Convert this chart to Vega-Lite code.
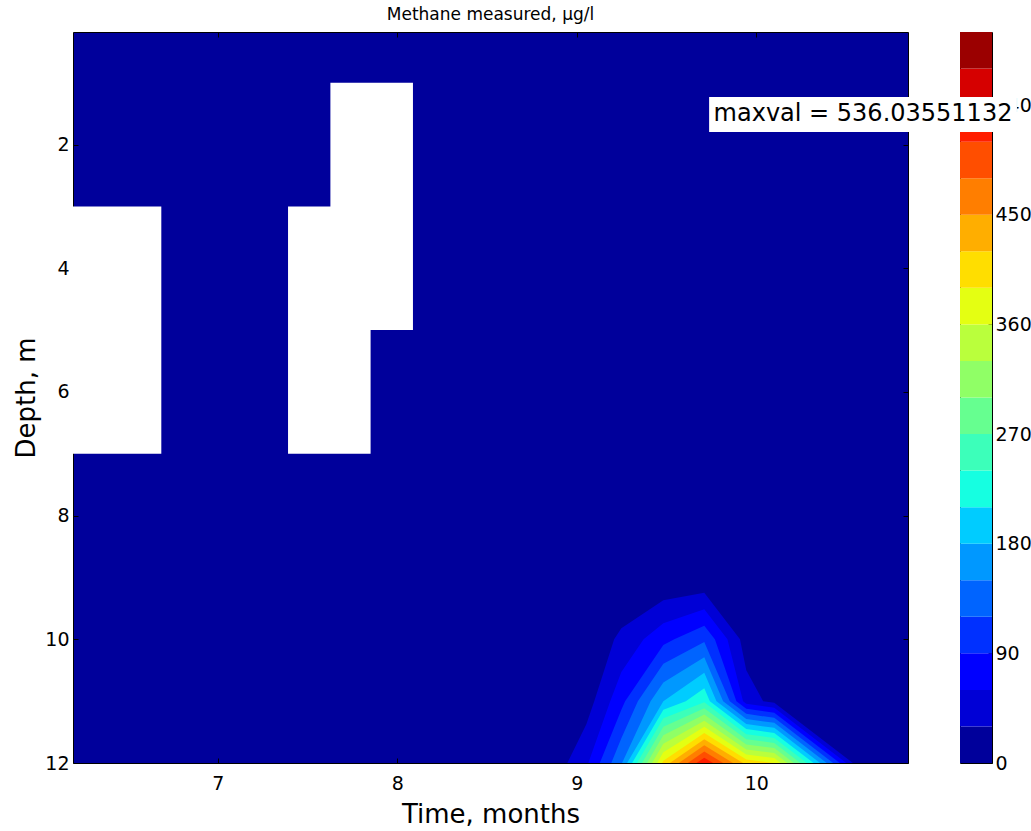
{
  "$schema": "https://vega.github.io/schema/vega-lite/v6.json",
  "background": "white",
  "padding": {"left": 13, "top": 5, "right": 2, "bottom": 5},
  "bounds": "flush",
  "spacing": 52,
  "config": {
    "font": "DejaVu Sans",
    "axis": {
      "labelFont": "DejaVu Sans",
      "labelFontSize": 19,
      "labelColor": "black",
      "titleFont": "DejaVu Sans",
      "titleFontSize": 26,
      "titleFontWeight": "normal",
      "titleColor": "black",
      "domain": false,
      "grid": false,
      "tickColor": "black",
      "tickWidth": 1,
      "zindex": 1
    }
  },
  "datasets": {
    "masked": [
      {"t_start": 6.193, "t_end": 6.685, "depth_top": 3, "depth_bottom": 7},
      {"t_start": 7.391, "t_end": 7.851, "depth_top": 3, "depth_bottom": 7},
      {"t_start": 7.627, "t_end": 8.087, "depth_top": 1, "depth_bottom": 5}
    ],
    "contours": [
      {"level": 30, "t": 8.947, "depth": 12},
      {"level": 30, "t": 9.053, "depth": 11.375},
      {"level": 30, "t": 9.097, "depth": 11},
      {"level": 30, "t": 9.208, "depth": 10},
      {"level": 30, "t": 9.248, "depth": 9.822},
      {"level": 30, "t": 9.482, "depth": 9.37},
      {"level": 30, "t": 9.71, "depth": 9.248},
      {"level": 30, "t": 9.909, "depth": 10},
      {"level": 30, "t": 9.944, "depth": 10.5},
      {"level": 30, "t": 10.038, "depth": 11},
      {"level": 30, "t": 10.1, "depth": 11.027},
      {"level": 30, "t": 10.538, "depth": 12},

      {"level": 60, "t": 9.064, "depth": 12},
      {"level": 60, "t": 9.186, "depth": 11},
      {"level": 60, "t": 9.248, "depth": 10.528},
      {"level": 60, "t": 9.372, "depth": 10},
      {"level": 60, "t": 9.482, "depth": 9.741},
      {"level": 60, "t": 9.71, "depth": 9.513},
      {"level": 60, "t": 9.839, "depth": 10},
      {"level": 60, "t": 9.926, "depth": 11},
      {"level": 60, "t": 9.944, "depth": 11.041},
      {"level": 60, "t": 10.1, "depth": 11.108},
      {"level": 60, "t": 10.501, "depth": 12},

      {"level": 90, "t": 9.128, "depth": 12},
      {"level": 90, "t": 9.248, "depth": 11.138},
      {"level": 90, "t": 9.269, "depth": 11},
      {"level": 90, "t": 9.482, "depth": 10.091},
      {"level": 90, "t": 9.543, "depth": 10},
      {"level": 90, "t": 9.71, "depth": 9.779},
      {"level": 90, "t": 9.769, "depth": 10},
      {"level": 90, "t": 9.889, "depth": 11},
      {"level": 90, "t": 9.944, "depth": 11.123},
      {"level": 90, "t": 10.1, "depth": 11.189},
      {"level": 90, "t": 10.465, "depth": 12},

      {"level": 120, "t": 9.192, "depth": 12},
      {"level": 120, "t": 9.248, "depth": 11.6},
      {"level": 120, "t": 9.34, "depth": 11},
      {"level": 120, "t": 9.482, "depth": 10.394},
      {"level": 120, "t": 9.71, "depth": 10.042},
      {"level": 120, "t": 9.852, "depth": 11},
      {"level": 120, "t": 9.944, "depth": 11.205},
      {"level": 120, "t": 10.1, "depth": 11.27},
      {"level": 120, "t": 10.428, "depth": 12},

      {"level": 150, "t": 9.252, "depth": 12},
      {"level": 150, "t": 9.411, "depth": 11},
      {"level": 150, "t": 9.482, "depth": 10.697},
      {"level": 150, "t": 9.71, "depth": 10.292},
      {"level": 150, "t": 9.815, "depth": 11},
      {"level": 150, "t": 9.944, "depth": 11.288},
      {"level": 150, "t": 10.1, "depth": 11.351},
      {"level": 150, "t": 10.392, "depth": 12},

      {"level": 180, "t": 9.28, "depth": 12},
      {"level": 180, "t": 9.482, "depth": 11},
      {"level": 180, "t": 9.71, "depth": 10.542},
      {"level": 180, "t": 9.778, "depth": 11},
      {"level": 180, "t": 9.944, "depth": 11.37},
      {"level": 180, "t": 10.1, "depth": 11.432},
      {"level": 180, "t": 10.355, "depth": 12},

      {"level": 210, "t": 9.308, "depth": 12},
      {"level": 210, "t": 9.482, "depth": 11.138},
      {"level": 210, "t": 9.607, "depth": 11},
      {"level": 210, "t": 9.71, "depth": 10.792},
      {"level": 210, "t": 9.741, "depth": 11},
      {"level": 210, "t": 9.944, "depth": 11.452},
      {"level": 210, "t": 10.1, "depth": 11.514},
      {"level": 210, "t": 10.319, "depth": 12},

      {"level": 240, "t": 9.335, "depth": 12},
      {"level": 240, "t": 9.482, "depth": 11.275},
      {"level": 240, "t": 9.71, "depth": 11.017},
      {"level": 240, "t": 9.944, "depth": 11.534},
      {"level": 240, "t": 10.1, "depth": 11.595},
      {"level": 240, "t": 10.282, "depth": 12},

      {"level": 270, "t": 9.363, "depth": 12},
      {"level": 270, "t": 9.482, "depth": 11.413},
      {"level": 270, "t": 9.71, "depth": 11.116},
      {"level": 270, "t": 9.944, "depth": 11.616},
      {"level": 270, "t": 10.1, "depth": 11.676},
      {"level": 270, "t": 10.246, "depth": 12},

      {"level": 300, "t": 9.391, "depth": 12},
      {"level": 300, "t": 9.482, "depth": 11.55},
      {"level": 300, "t": 9.71, "depth": 11.216},
      {"level": 300, "t": 9.944, "depth": 11.699},
      {"level": 300, "t": 10.1, "depth": 11.757},
      {"level": 300, "t": 10.209, "depth": 12},

      {"level": 330, "t": 9.419, "depth": 12},
      {"level": 330, "t": 9.482, "depth": 11.688},
      {"level": 330, "t": 9.71, "depth": 11.316},
      {"level": 330, "t": 9.944, "depth": 11.781},
      {"level": 330, "t": 10.1, "depth": 11.838},
      {"level": 330, "t": 10.173, "depth": 12},

      {"level": 360, "t": 9.447, "depth": 12},
      {"level": 360, "t": 9.482, "depth": 11.826},
      {"level": 360, "t": 9.71, "depth": 11.415},
      {"level": 360, "t": 9.944, "depth": 11.863},
      {"level": 360, "t": 10.1, "depth": 11.919},
      {"level": 360, "t": 10.136, "depth": 12},

      {"level": 390, "t": 9.475, "depth": 12},
      {"level": 390, "t": 9.482, "depth": 11.963},
      {"level": 390, "t": 9.71, "depth": 11.515},
      {"level": 390, "t": 9.944, "depth": 11.945},
      {"level": 390, "t": 10.1, "depth": 12},

      {"level": 420, "t": 9.518, "depth": 12},
      {"level": 420, "t": 9.71, "depth": 11.615},
      {"level": 420, "t": 9.926, "depth": 12},

      {"level": 450, "t": 9.568, "depth": 12},
      {"level": 450, "t": 9.71, "depth": 11.714},
      {"level": 450, "t": 9.87, "depth": 12},

      {"level": 480, "t": 9.618, "depth": 12},
      {"level": 480, "t": 9.71, "depth": 11.814},
      {"level": 480, "t": 9.815, "depth": 12},

      {"level": 510, "t": 9.667, "depth": 12},
      {"level": 510, "t": 9.71, "depth": 11.914},
      {"level": 510, "t": 9.759, "depth": 12}
    ],
    "bands": [
      {"level": 0, "upper": 30}, {"level": 30, "upper": 60}, {"level": 60, "upper": 90},
      {"level": 90, "upper": 120}, {"level": 120, "upper": 150}, {"level": 150, "upper": 180},
      {"level": 180, "upper": 210}, {"level": 210, "upper": 240}, {"level": 240, "upper": 270},
      {"level": 270, "upper": 300}, {"level": 300, "upper": 330}, {"level": 330, "upper": 360},
      {"level": 360, "upper": 390}, {"level": 390, "upper": 420}, {"level": 420, "upper": 450},
      {"level": 450, "upper": 480}, {"level": 480, "upper": 510}, {"level": 510, "upper": 540},
      {"level": 540, "upper": 570}, {"level": 570, "upper": 600}
    ],
    "note": [
      {"label": "maxval = 536.03551132"}
    ]
  },
  "hconcat": [
    {
      "width": 835,
      "height": 731,
      "title": {"text": "Methane measured, μg/l", "font": "DejaVu Sans", "fontSize": 17, "fontWeight": "normal", "color": "black", "offset": 8},
      "view": {"fill": "#00009b", "stroke": "black", "strokeWidth": 1},
      "resolve": {"axis": {"x": "independent", "y": "independent"}},
      "layer": [
        {
          "data": {"name": "masked"},
          "mark": {"type": "rect", "color": "white"},
          "encoding": {
            "x": {
              "field": "t_start", "type": "quantitative",
              "scale": {"domain": [6.193, 10.845], "nice": false, "zero": false},
              "axis": {"orient": "bottom", "values": [7, 8, 9, 10], "title": "Time, months", "tickSize": -5, "labelPadding": 16, "titlePadding": 8}
            },
            "x2": {"field": "t_end"},
            "y": {
              "field": "depth_top", "type": "quantitative",
              "scale": {"domain": [0.18, 12], "reverse": true, "nice": false, "zero": false},
              "axis": {"orient": "left", "values": [2, 4, 6, 8, 10, 12], "title": "Depth, m", "tickSize": -5, "labelPadding": 9, "titlePadding": 5}
            },
            "y2": {"field": "depth_bottom"}
          }
        },
        {
          "data": {"name": "contours"},
          "mark": {"type": "area", "interpolate": "linear"},
          "encoding": {
            "x": {"field": "t", "type": "quantitative", "axis": {"orient": "top", "values": [7, 8, 9, 10], "labels": false, "title": null, "tickSize": -5}},
            "y": {"field": "depth", "type": "quantitative", "stack": null, "axis": {"orient": "right", "values": [2, 4, 6, 8, 10, 12], "labels": false, "title": null, "tickSize": -5}},
            "y2": {"datum": 12},
            "color": {
              "field": "level", "type": "ordinal", "legend": null,
              "scale": {
                "domain": [0, 30, 60, 90, 120, 150, 180, 210, 240, 270, 300, 330, 360, 390, 420, 450, 480, 510, 540, 570],
                "range": ["#00009b", "#0000d6", "#0000ff", "#0030ff", "#0064ff", "#0098ff", "#00ccff", "#16ffe1", "#3cffba", "#66ff90", "#90ff66", "#baff3c", "#e4ff12", "#ffde00", "#ffae00", "#ff7e00", "#ff4e00", "#ff1e00", "#d60000", "#9b0000"]
              }
            }
          }
        }
      ]
    },
    {
      "width": 32,
      "height": 731,
      "view": {"stroke": "black", "strokeWidth": 1},
      "layer": [
        {
          "data": {"name": "bands"},
          "mark": {"type": "rect"},
          "encoding": {
            "x": {"datum": 0, "type": "quantitative", "scale": {"domain": [0, 1], "nice": false, "zero": false}, "axis": null},
            "x2": {"datum": 1},
            "y": {
              "field": "level", "type": "quantitative",
              "scale": {"domain": [0, 600], "nice": false},
              "axis": {"orient": "right", "values": [0, 90, 180, 270, 360, 450, 540], "title": null, "tickSize": -4, "labelPadding": 7}
            },
            "y2": {"field": "upper"},
            "color": {
              "field": "level", "type": "ordinal", "legend": null,
              "scale": {
                "domain": [0, 30, 60, 90, 120, 150, 180, 210, 240, 270, 300, 330, 360, 390, 420, 450, 480, 510, 540, 570],
                "range": ["#00009b", "#0000d6", "#0000ff", "#0030ff", "#0064ff", "#0098ff", "#00ccff", "#16ffe1", "#3cffba", "#66ff90", "#90ff66", "#baff3c", "#e4ff12", "#ffde00", "#ffae00", "#ff7e00", "#ff4e00", "#ff1e00", "#d60000", "#9b0000"]
              }
            }
          }
        },
        {
          "data": {"name": "note"},
          "mark": {"type": "rect", "color": "white"},
          "encoding": {
            "x": {"datum": -7.84},
            "x2": {"datum": 1.78},
            "y": {"datum": 546.6},
            "y2": {"datum": 517.9}
          }
        },
        {
          "data": {"name": "note"},
          "mark": {"type": "text", "align": "left", "baseline": "middle", "font": "DejaVu Sans", "fontSize": 24, "color": "black"},
          "encoding": {
            "x": {"datum": -7.7},
            "y": {"datum": 532.3},
            "text": {"field": "label"}
          }
        }
      ]
    }
  ]
}
